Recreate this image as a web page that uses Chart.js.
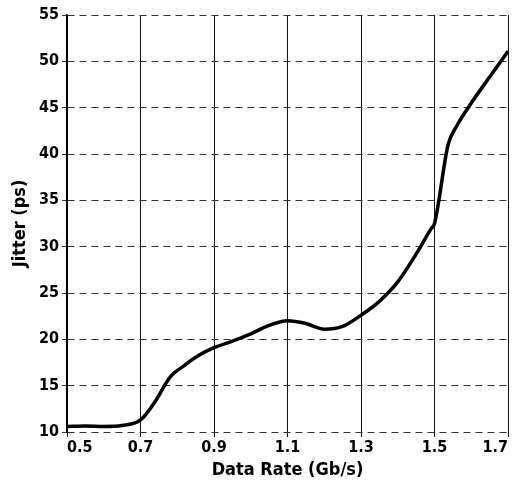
<!DOCTYPE html>
<html>
<head>
<meta charset="utf-8">
<script src="https://cdn.jsdelivr.net/npm/chart.js@4.4.0/dist/chart.umd.min.js"></script>
<style>
  html, body { margin: 0; padding: 0; background: #fff; }
  #wrap { width: 518px; height: 483px; }
</style>
</head>
<body>
<div id="wrap"><canvas id="chart" width="518" height="483"></canvas></div>
<script>
// data
const dataRate = [0.5, 0.55, 0.6, 0.65, 0.7, 0.74, 0.78, 0.82, 0.86, 0.9, 0.95, 1.0, 1.05, 1.1, 1.15, 1.2, 1.25, 1.3, 1.35, 1.4, 1.45, 1.49, 1.5, 1.537, 1.56, 1.6, 1.65, 1.7];
const jitter = [10.6, 10.65, 10.6, 10.7, 11.3, 13.3, 15.9, 17.2, 18.3, 19.1, 19.8, 20.6, 21.5, 22.0, 21.7, 21.1, 21.4, 22.6, 24.1, 26.2, 29.2, 31.9, 32.5, 41.0, 43.0, 45.5, 48.3, 51.1];
const xTicks = [0.5, 0.7, 0.9, 1.1, 1.3, 1.5, 1.7];
const yTicks = [10, 15, 20, 25, 30, 35, 40, 45, 50, 55];

const fontFam = "'DejaVu Sans Condensed', 'Liberation Sans Narrow', 'Liberation Sans', sans-serif";

const points = dataRate.map((x, i) => ({ x: x, y: jitter[i] }));

new Chart(document.getElementById("chart"), {
    type: "line",
    data: {
        datasets: [{
            data: points,
            borderColor: "#000",
            borderWidth: 3.5,
            pointRadius: 0,
            fill: false,
            cubicInterpolationMode: "monotone"
        }]
    },
    options: {
        responsive: false,
        animation: false,
        layout: { padding: { top: 15, right: 10, left: 0, bottom: 0 } },
        plugins: { legend: { display: false }, tooltip: { enabled: false } },
        scales: {
            x: {
                type: "linear",
                min: 0.5,
                max: 1.7,
                afterBuildTicks: scale => { scale.ticks = xTicks.map(v => ({ value: v })); },
                afterFit: scale => { scale.height = 51; },
                grid: { color: "#111", lineWidth: 1, tickLength: 5 },
                border: { display: false },
                ticks: {
                    color: "#000",
                    align: "inner",
                    padding: 1,
                    font: { family: fontFam, size: 16, weight: "bold" },
                    callback: v => v.toFixed(1)
                },
                title: {
                    display: true,
                    text: "Data Rate (Gb/s)",
                    color: "#000",
                    padding: { top: 0, bottom: 2 },
                    font: { family: fontFam, size: 18, weight: "bold" }
                }
            },
            y: {
                min: 10,
                max: 55,
                afterBuildTicks: scale => { scale.ticks = yTicks.map(v => ({ value: v })); },
                afterFit: scale => { scale.width = 67; },
                grid: { color: "#333", lineWidth: 1, tickLength: 5, tickBorderDash: [] },
                border: { display: true, color: "#000", width: 1.5, dash: [7, 5] },
                ticks: {
                    color: "#000",
                    padding: 3,
                    font: { family: fontFam, size: 16, weight: "bold" }
                },
                title: {
                    display: true,
                    text: "Jitter (ps)",
                    color: "#000",
                    padding: { top: 10, bottom: 4 },
                    font: { family: fontFam, size: 18, weight: "bold" }
                }
            }
        }
    }
});
</script>
</body>
</html>
